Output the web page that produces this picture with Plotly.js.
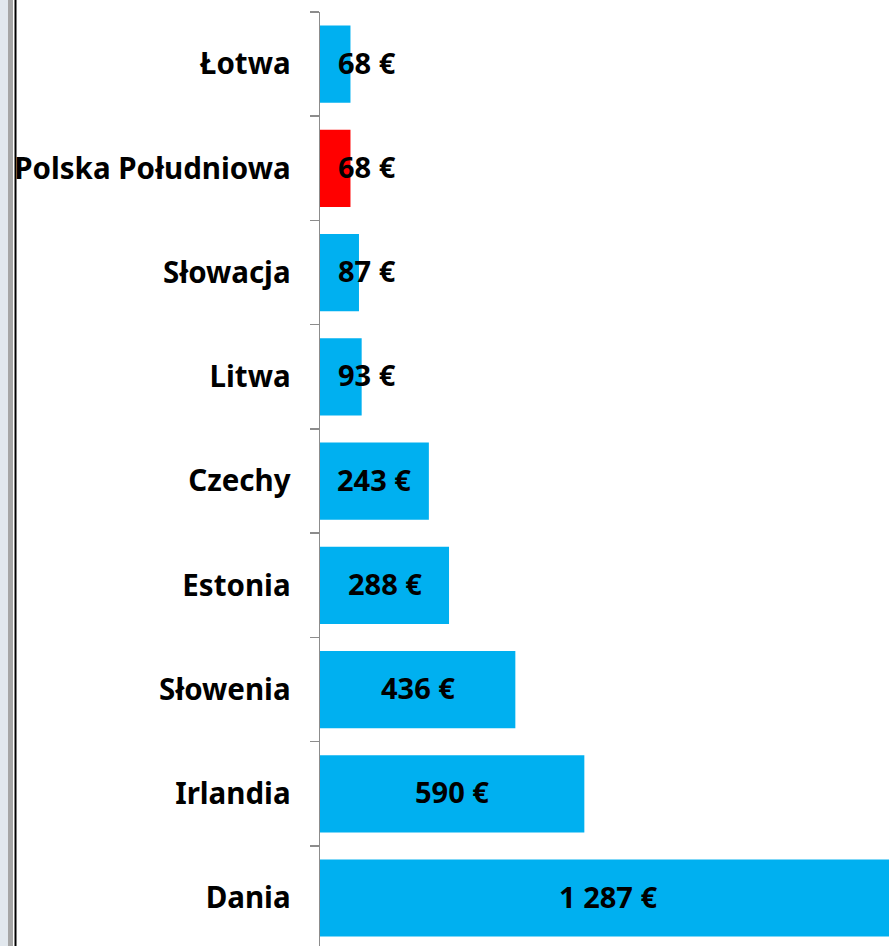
<!DOCTYPE html>
<html>
<head>
<meta charset="utf-8">
<script src="https://cdn.plot.ly/plotly-3.0.1.min.js"></script>
<style>
html,body{margin:0;padding:0;background:#fff;}
#chart{width:889px;height:946px;}
</style>
</head>
<body>
<div id="chart"></div>
<script>
var categories = ["Łotwa", "Polska Południowa", "Słowacja", "Litwa", "Czechy", "Estonia", "Słowenia", "Irlandia", "Dania"];
var values = [68, 68, 87, 93, 243, 288, 436, 590, 1287];
var labels = ["68 €", "68 €", "87 €", "93 €", "243 €", "288 €", "436 €", "590 €", "1 287 €"];
var colors = ["#00B0F0", "#FF0000", "#00B0F0", "#00B0F0", "#00B0F0", "#00B0F0", "#00B0F0", "#00B0F0", "#00B0F0"];

var FONT = "Noto Sans, DejaVu Sans, sans-serif";

var trace = {
  type: "bar",
  orientation: "h",
  y: categories,
  x: values,
  marker: {color: colors, line: {width: 0}},
  hoverinfo: "none",
  textposition: "none"
};

var annotations = values.map(function (v, i) {
  var small = v < 150;
  return {
    x: small ? 35 : v / 2,
    y: categories[i],
    xref: "x", yref: "y",
    text: "<b>" + labels[i] + "</b>",
    showarrow: false,
    xanchor: small ? "left" : "center",
    yanchor: "middle",
    yshift: 2,
    font: {family: FONT, size: 29, color: "#000"}
  };
});

var layout = {
  width: 889, height: 946,
  margin: {l: 320, r: 0, t: 12, b: 0, pad: 0},
  paper_bgcolor: "#fff", plot_bgcolor: "#fff",
  showlegend: false,
  bargap: 0.26,
  xaxis: {range: [0, 1270], visible: false, fixedrange: true},
  yaxis: {
    type: "category",
    range: [8.46, -0.5],
    showline: true, linecolor: "#8c8c8c", linewidth: 1.5,
    ticks: "outside", ticklen: 9, tickcolor: "#8c8c8c", tickwidth: 1.5,
    tickson: "boundaries",
    showgrid: false, zeroline: false,
    ticklabelstandoff: 22,
    tickfont: {family: FONT, size: 29.5, color: "#000", weight: "bold"}
  },
  annotations: annotations,
  shapes: [
    {type: "rect", xref: "paper", yref: "paper", x0: -320/569, x1: -307/569, y0: 0, y1: 1.02, fillcolor: "#e2e8ee", line: {width: 0}, layer: "above"},
    {type: "rect", xref: "paper", yref: "paper", x0: -312/569, x1: -307/569, y0: 0, y1: 1.02, fillcolor: "#a6a6a6", line: {width: 0}, layer: "above"},
    {type: "rect", xref: "paper", yref: "paper", x0: -305.5/569, x1: -303.5/569, y0: 0, y1: 1.02, fillcolor: "#000", line: {width: 0}, layer: "above"}
  ]
};

Plotly.newPlot("chart", [trace], layout, {displayModeBar: false, staticPlot: true});
</script>
</body>
</html>
